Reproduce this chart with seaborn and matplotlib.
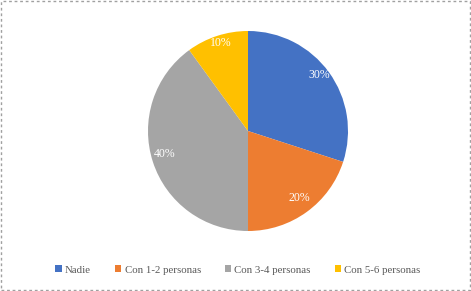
import matplotlib
matplotlib.use("Agg")
import matplotlib.pyplot as plt
import seaborn as sns
from matplotlib.patches import Rectangle

categories = ["Nadie", "Con 1-2 personas", "Con 3-4 personas", "Con 5-6 personas"]
values = [30, 20, 40, 10]
colors = ["#4472C4", "#ED7D31", "#A5A5A5", "#FFC000"]

sns.set_theme(style="white")
plt.rcParams['font.family'] = ['Liberation Serif', 'DejaVu Serif']

fig = plt.figure(figsize=(4.71, 2.91), dpi=100)
ax = fig.add_axes([148/471, (291-231)/291, 200/471, 200/291])
wedges, texts, autotexts = ax.pie(
    values, colors=colors, startangle=90, counterclock=False,
    autopct=lambda p: f"{p:.0f}%", pctdistance=0.88,
    wedgeprops=dict(linewidth=0),
    textprops=dict(color="white", fontsize=8.5))
for t in autotexts:
    x, y = t.get_position()
    t.set_position((x, y + 0.04))
ax.set_xlim(-1, 1)
ax.set_ylim(-1, 1)
ax.set_aspect('equal')

leg = fig.legend(wedges, categories, loc='center', bbox_to_anchor=(0.505, (291-270)/291),
                 ncol=4, frameon=False, fontsize=7.8, handlelength=0.6, handleheight=0.6,
                 handletextpad=0.3, columnspacing=2.2, labelcolor="#595959")

fig.patches.append(Rectangle((0.002, 0.003), 0.995, 0.994, transform=fig.transFigure,
                             fill=False, edgecolor="#A0A0A0", linestyle=(0, (2, 2)), linewidth=1))
fig.savefig("out.png", dpi=100)
